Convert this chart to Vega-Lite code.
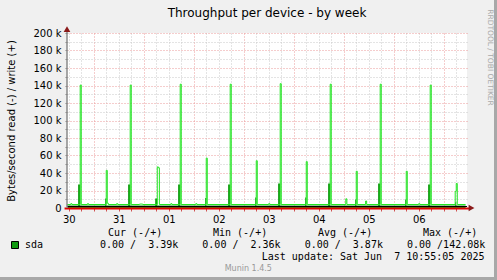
{
  "$schema": "https://vega.github.io/schema/vega-lite/v6.json",
  "width": 400,
  "height": 175,
  "autosize": {"type": "none"},
  "padding": {"left": 67, "top": 33, "right": 30, "bottom": 72},
  "background": "#f0f0f0",
  "config": {
    "view": {"fill": "#ffffff", "stroke": null},
    "font": "DejaVu Sans"
  },
  "title": {"text": "Throughput per device - by week", "fontSize": 12, "fontWeight": "normal", "color": "#000000", "font": "DejaVu Sans", "anchor": "middle", "frame": "group", "offset": -21},
  "datasets": {
    "io": [
      {"device": "sda", "part": "line", "t": "2025-05-30T11:10:00Z", "v": 4000},
      {"device": "sda", "part": "line", "t": "2025-05-30T13:00:00Z", "v": 5000},
      {"device": "sda", "part": "line", "t": "2025-05-30T13:30:00Z", "v": 4000},
      {"device": "sda", "part": "line", "t": "2025-05-30T17:30:00Z", "v": 140500},
      {"device": "sda", "part": "line", "t": "2025-05-30T18:00:00Z", "v": 4000},
      {"device": "sda", "part": "line", "t": "2025-05-30T21:00:00Z", "v": 5000},
      {"device": "sda", "part": "line", "t": "2025-05-30T21:30:00Z", "v": 4000},
      {"device": "sda", "part": "line", "t": "2025-05-31T06:00:00Z", "v": 43000},
      {"device": "sda", "part": "line", "t": "2025-05-31T06:30:00Z", "v": 5500},
      {"device": "sda", "part": "line", "t": "2025-05-31T07:00:00Z", "v": 4000},
      {"device": "sda", "part": "line", "t": "2025-05-31T11:00:00Z", "v": 5000},
      {"device": "sda", "part": "line", "t": "2025-05-31T11:30:00Z", "v": 4000},
      {"device": "sda", "part": "line", "t": "2025-05-31T17:30:00Z", "v": 140500},
      {"device": "sda", "part": "line", "t": "2025-05-31T18:00:00Z", "v": 4000},
      {"device": "sda", "part": "line", "t": "2025-05-31T22:00:00Z", "v": 4500},
      {"device": "sda", "part": "line", "t": "2025-05-31T23:30:00Z", "v": 4000},
      {"device": "sda", "part": "line", "t": "2025-06-01T06:30:00Z", "v": 47000},
      {"device": "sda", "part": "line", "t": "2025-06-01T07:00:00Z", "v": 46000},
      {"device": "sda", "part": "line", "t": "2025-06-01T07:30:00Z", "v": 4000},
      {"device": "sda", "part": "line", "t": "2025-06-01T13:00:00Z", "v": 5000},
      {"device": "sda", "part": "line", "t": "2025-06-01T13:30:00Z", "v": 4000},
      {"device": "sda", "part": "line", "t": "2025-06-01T17:30:00Z", "v": 141500},
      {"device": "sda", "part": "line", "t": "2025-06-01T18:00:00Z", "v": 4000},
      {"device": "sda", "part": "line", "t": "2025-06-02T01:00:00Z", "v": 5000},
      {"device": "sda", "part": "line", "t": "2025-06-02T01:30:00Z", "v": 4000},
      {"device": "sda", "part": "line", "t": "2025-06-02T06:00:00Z", "v": 57000},
      {"device": "sda", "part": "line", "t": "2025-06-02T06:30:00Z", "v": 4000},
      {"device": "sda", "part": "line", "t": "2025-06-02T17:30:00Z", "v": 141500},
      {"device": "sda", "part": "line", "t": "2025-06-02T18:00:00Z", "v": 4000},
      {"device": "sda", "part": "line", "t": "2025-06-03T06:00:00Z", "v": 54000},
      {"device": "sda", "part": "line", "t": "2025-06-03T06:30:00Z", "v": 4000},
      {"device": "sda", "part": "line", "t": "2025-06-03T12:00:00Z", "v": 5000},
      {"device": "sda", "part": "line", "t": "2025-06-03T12:30:00Z", "v": 4000},
      {"device": "sda", "part": "line", "t": "2025-06-03T17:30:00Z", "v": 142080},
      {"device": "sda", "part": "line", "t": "2025-06-03T18:00:00Z", "v": 4000},
      {"device": "sda", "part": "line", "t": "2025-06-04T06:00:00Z", "v": 53000},
      {"device": "sda", "part": "line", "t": "2025-06-04T06:30:00Z", "v": 4000},
      {"device": "sda", "part": "line", "t": "2025-06-04T17:30:00Z", "v": 141500},
      {"device": "sda", "part": "line", "t": "2025-06-04T18:00:00Z", "v": 4000},
      {"device": "sda", "part": "line", "t": "2025-06-05T01:00:00Z", "v": 10500},
      {"device": "sda", "part": "line", "t": "2025-06-05T01:30:00Z", "v": 4000},
      {"device": "sda", "part": "line", "t": "2025-06-05T06:00:00Z", "v": 42000},
      {"device": "sda", "part": "line", "t": "2025-06-05T06:30:00Z", "v": 4000},
      {"device": "sda", "part": "line", "t": "2025-06-05T10:30:00Z", "v": 8000},
      {"device": "sda", "part": "line", "t": "2025-06-05T11:00:00Z", "v": 4000},
      {"device": "sda", "part": "line", "t": "2025-06-05T17:30:00Z", "v": 141500},
      {"device": "sda", "part": "line", "t": "2025-06-05T18:00:00Z", "v": 4000},
      {"device": "sda", "part": "line", "t": "2025-06-06T06:00:00Z", "v": 42000},
      {"device": "sda", "part": "line", "t": "2025-06-06T06:30:00Z", "v": 4000},
      {"device": "sda", "part": "line", "t": "2025-06-06T12:00:00Z", "v": 5000},
      {"device": "sda", "part": "line", "t": "2025-06-06T12:30:00Z", "v": 4000},
      {"device": "sda", "part": "line", "t": "2025-06-06T17:30:00Z", "v": 140500},
      {"device": "sda", "part": "line", "t": "2025-06-06T18:00:00Z", "v": 4000},
      {"device": "sda", "part": "line", "t": "2025-06-07T05:30:00Z", "v": 19000},
      {"device": "sda", "part": "line", "t": "2025-06-07T06:00:00Z", "v": 28000},
      {"device": "sda", "part": "line", "t": "2025-06-07T06:30:00Z", "v": 4000},
      {"device": "sda", "part": "line", "t": "2025-06-07T10:30:00Z", "v": 4000},
      {"device": "sda", "part": "area", "t": "2025-05-30T11:10:00Z", "v": 3000},
      {"device": "sda", "part": "area", "t": "2025-05-30T16:30:00Z", "v": 27000},
      {"device": "sda", "part": "area", "t": "2025-05-30T17:30:00Z", "v": 3000},
      {"device": "sda", "part": "area", "t": "2025-05-31T05:30:00Z", "v": 10900},
      {"device": "sda", "part": "area", "t": "2025-05-31T06:00:00Z", "v": 3000},
      {"device": "sda", "part": "area", "t": "2025-05-31T16:30:00Z", "v": 27000},
      {"device": "sda", "part": "area", "t": "2025-05-31T17:30:00Z", "v": 3000},
      {"device": "sda", "part": "area", "t": "2025-06-01T05:30:00Z", "v": 11000},
      {"device": "sda", "part": "area", "t": "2025-06-01T06:30:00Z", "v": 3000},
      {"device": "sda", "part": "area", "t": "2025-06-01T16:30:00Z", "v": 27000},
      {"device": "sda", "part": "area", "t": "2025-06-01T17:30:00Z", "v": 3000},
      {"device": "sda", "part": "area", "t": "2025-06-02T05:30:00Z", "v": 11500},
      {"device": "sda", "part": "area", "t": "2025-06-02T06:00:00Z", "v": 3000},
      {"device": "sda", "part": "area", "t": "2025-06-02T16:30:00Z", "v": 27000},
      {"device": "sda", "part": "area", "t": "2025-06-02T17:30:00Z", "v": 3000},
      {"device": "sda", "part": "area", "t": "2025-06-03T05:30:00Z", "v": 12000},
      {"device": "sda", "part": "area", "t": "2025-06-03T06:00:00Z", "v": 3000},
      {"device": "sda", "part": "area", "t": "2025-06-03T16:30:00Z", "v": 28000},
      {"device": "sda", "part": "area", "t": "2025-06-03T17:30:00Z", "v": 3000},
      {"device": "sda", "part": "area", "t": "2025-06-04T05:30:00Z", "v": 12000},
      {"device": "sda", "part": "area", "t": "2025-06-04T06:00:00Z", "v": 3000},
      {"device": "sda", "part": "area", "t": "2025-06-04T16:30:00Z", "v": 28000},
      {"device": "sda", "part": "area", "t": "2025-06-04T17:30:00Z", "v": 3000},
      {"device": "sda", "part": "area", "t": "2025-06-05T05:30:00Z", "v": 9700},
      {"device": "sda", "part": "area", "t": "2025-06-05T06:00:00Z", "v": 3000},
      {"device": "sda", "part": "area", "t": "2025-06-05T16:30:00Z", "v": 28000},
      {"device": "sda", "part": "area", "t": "2025-06-05T17:30:00Z", "v": 3000},
      {"device": "sda", "part": "area", "t": "2025-06-06T05:30:00Z", "v": 9700},
      {"device": "sda", "part": "area", "t": "2025-06-06T06:00:00Z", "v": 3000},
      {"device": "sda", "part": "area", "t": "2025-06-06T16:30:00Z", "v": 27000},
      {"device": "sda", "part": "area", "t": "2025-06-06T17:30:00Z", "v": 3000},
      {"device": "sda", "part": "area", "t": "2025-06-07T05:30:00Z", "v": 6600},
      {"device": "sda", "part": "area", "t": "2025-06-07T06:00:00Z", "v": 3000},
      {"device": "sda", "part": "area", "t": "2025-06-07T10:30:00Z", "v": 3000}
    ],
    "stats": [
      {"stat": "Cur", "header": "Cur (-/+)", "value": "0.00 /\u00a0\u00a03.39k"},
      {"stat": "Min", "header": "Min (-/+)", "value": "0.00 /\u00a0\u00a02.36k"},
      {"stat": "Avg", "header": "Avg (-/+)", "value": "0.00 /\u00a0\u00a03.87k"},
      {"stat": "Max", "header": "Max (-/+)", "value": "0.00 /142.08k"}
    ],
    "one": [{}]
  },
  "layer": [
    {
      "data": {"name": "io"},
      "transform": [{"filter": "datum.part == 'area'"}],
      "mark": {"type": "area", "interpolate": "step-after", "opacity": 1},
      "encoding": {
        "x": {"field": "t", "type": "temporal",
          "scale": {"type": "utc", "domain": [{"year": 2025, "month": 5, "date": 30, "hours": 11, "minutes": 10, "utc": true}, {"year": 2025, "month": 6, "date": 7, "hours": 11, "minutes": 10, "utc": true}]},
          "axis": {"orient": "bottom", "title": null, "grid": true, "gridColor": "#c8c8c8", "gridDash": [1, 2], "domain": false,
            "ticks": true, "tickColor": "#d05050", "tickSize": 3,
            "labelExpr": "utchours(datum.value) == 12 ? utcFormat(datum.value, '%d') : ''",
            "labelFont": "DejaVu Sans", "labelFontSize": 10, "labelColor": "#000000", "labelPadding": 3, "labelOverlap": false, "labelFlush": false, "labelBound": false,
            "values": [
              {"year": 2025, "month": 5, "date": 30, "hours": 12, "utc": true},
              {"year": 2025, "month": 5, "date": 30, "hours": 18, "utc": true},
              {"year": 2025, "month": 5, "date": 31, "hours": 6, "utc": true},
              {"year": 2025, "month": 5, "date": 31, "hours": 12, "utc": true},
              {"year": 2025, "month": 5, "date": 31, "hours": 18, "utc": true},
              {"year": 2025, "month": 6, "date": 1, "hours": 6, "utc": true},
              {"year": 2025, "month": 6, "date": 1, "hours": 12, "utc": true},
              {"year": 2025, "month": 6, "date": 1, "hours": 18, "utc": true},
              {"year": 2025, "month": 6, "date": 2, "hours": 6, "utc": true},
              {"year": 2025, "month": 6, "date": 2, "hours": 12, "utc": true},
              {"year": 2025, "month": 6, "date": 2, "hours": 18, "utc": true},
              {"year": 2025, "month": 6, "date": 3, "hours": 6, "utc": true},
              {"year": 2025, "month": 6, "date": 3, "hours": 12, "utc": true},
              {"year": 2025, "month": 6, "date": 3, "hours": 18, "utc": true},
              {"year": 2025, "month": 6, "date": 4, "hours": 6, "utc": true},
              {"year": 2025, "month": 6, "date": 4, "hours": 12, "utc": true},
              {"year": 2025, "month": 6, "date": 4, "hours": 18, "utc": true},
              {"year": 2025, "month": 6, "date": 5, "hours": 6, "utc": true},
              {"year": 2025, "month": 6, "date": 5, "hours": 12, "utc": true},
              {"year": 2025, "month": 6, "date": 5, "hours": 18, "utc": true},
              {"year": 2025, "month": 6, "date": 6, "hours": 6, "utc": true},
              {"year": 2025, "month": 6, "date": 6, "hours": 12, "utc": true},
              {"year": 2025, "month": 6, "date": 6, "hours": 18, "utc": true},
              {"year": 2025, "month": 6, "date": 7, "hours": 6, "utc": true}
            ]}},
        "y": {"field": "v", "type": "quantitative", "scale": {"domain": [0, 200000]},
          "axis": {"orient": "left", "title": null, "grid": true, "gridColor": "#c8c8c8", "gridDash": [1, 2], "labels": false, "ticks": true, "tickSize": 2, "tickColor": "#888888", "domain": false,
            "values": [10000, 30000, 50000, 70000, 90000, 110000, 130000, 150000, 170000, 190000]}},
        "color": {"field": "device", "type": "nominal", "scale": {"domain": ["sda"], "range": ["#109a10"]},
          "legend": {"orient": "none", "legendX": -57, "legendY": 207, "title": null, "padding": 0, "symbolType": "square", "symbolSize": 49, "symbolStrokeColor": "#000000", "symbolStrokeWidth": 1, "labelFont": "DejaVu Sans Mono", "labelFontSize": 10, "labelColor": "#000000", "labelOffset": 5}}
      }
    },
    {
      "data": {"name": "io"},
      "transform": [{"filter": "datum.part == 'line'"}],
      "mark": {"type": "line", "interpolate": "step-after", "color": "#22e622", "strokeWidth": 1},
      "encoding": {
        "x": {"field": "t", "type": "temporal",
          "scale": {"type": "utc", "domain": [{"year": 2025, "month": 5, "date": 30, "hours": 11, "minutes": 10, "utc": true}, {"year": 2025, "month": 6, "date": 7, "hours": 11, "minutes": 10, "utc": true}]},
          "axis": {"orient": "bottom", "title": null, "grid": true, "gridColor": "#eb9a9a", "gridDash": [1, 2], "domain": false, "labels": false,
            "ticks": true, "tickColor": "#d05050", "tickSize": 3,
            "values": [
              {"year": 2025, "month": 5, "date": 31, "hours": 0, "utc": true},
              {"year": 2025, "month": 6, "date": 1, "hours": 0, "utc": true},
              {"year": 2025, "month": 6, "date": 2, "hours": 0, "utc": true},
              {"year": 2025, "month": 6, "date": 3, "hours": 0, "utc": true},
              {"year": 2025, "month": 6, "date": 4, "hours": 0, "utc": true},
              {"year": 2025, "month": 6, "date": 5, "hours": 0, "utc": true},
              {"year": 2025, "month": 6, "date": 6, "hours": 0, "utc": true},
              {"year": 2025, "month": 6, "date": 7, "hours": 0, "utc": true}
            ]}},
        "y": {"field": "v", "type": "quantitative", "scale": {"domain": [0, 200000]},
          "axis": {"orient": "left", "grid": true, "gridColor": "#eb9a9a", "gridDash": [1, 2], "domain": false,
            "ticks": true, "tickSize": 2, "tickColor": "#888888",
            "values": [0, 20000, 40000, 60000, 80000, 100000, 120000, 140000, 160000, 180000, 200000],
            "labelExpr": "datum.value == 0 ? '0' : format(datum.value / 1000, 'd') + ' k'",
            "labelFont": "DejaVu Sans", "labelFontSize": 10, "labelColor": "#000000", "labelPadding": 4,
            "title": "Bytes/second read (-) / write (+)", "titleFont": "DejaVu Sans", "titleFontSize": 10, "titleFontWeight": "normal", "titleColor": "#000000", "titlePadding": 16}}
      }
    },
    {
      "data": {"name": "one"},
      "mark": {"type": "rule", "color": "#000000", "strokeWidth": 1, "yOffset": -1.5},
      "encoding": {
        "x": {"datum": {"year": 2025, "month": 5, "date": 30, "hours": 11, "minutes": 10, "utc": true}, "type": "temporal", "scale": {"type": "utc", "domain": [{"year": 2025, "month": 5, "date": 30, "hours": 11, "minutes": 10, "utc": true}, {"year": 2025, "month": 6, "date": 7, "hours": 11, "minutes": 10, "utc": true}]}, "axis": null},
        "x2": {"datum": {"year": 2025, "month": 6, "date": 7, "hours": 11, "minutes": 10, "utc": true}},
        "y": {"datum": 0, "type": "quantitative", "scale": {"domain": [0, 200000]}, "axis": null}
      }
    },
    {
      "data": {"name": "one"},
      "mark": {"type": "rule", "color": "#e00000", "strokeWidth": 2, "yOffset": 0.5},
      "encoding": {
        "x": {"datum": {"year": 2025, "month": 5, "date": 30, "hours": 10, "minutes": 0, "utc": true}, "type": "temporal", "scale": {"type": "utc", "domain": [{"year": 2025, "month": 5, "date": 30, "hours": 11, "minutes": 10, "utc": true}, {"year": 2025, "month": 6, "date": 7, "hours": 11, "minutes": 10, "utc": true}]}, "axis": null},
        "x2": {"datum": {"year": 2025, "month": 6, "date": 7, "hours": 13, "minutes": 0, "utc": true}},
        "y": {"datum": 0, "type": "quantitative", "scale": {"domain": [0, 200000]}, "axis": null}
      }
    },
    {
      "data": {"name": "one"},
      "mark": {"type": "rule", "color": "#8a8a8a", "strokeWidth": 1.5},
      "encoding": {
        "x": {"datum": {"year": 2025, "month": 5, "date": 30, "hours": 11, "minutes": 10, "utc": true}, "type": "temporal", "scale": {"type": "utc", "domain": [{"year": 2025, "month": 5, "date": 30, "hours": 11, "minutes": 10, "utc": true}, {"year": 2025, "month": 6, "date": 7, "hours": 11, "minutes": 10, "utc": true}]}, "axis": null},
        "y": {"datum": 0, "type": "quantitative", "scale": {"domain": [0, 200000]}, "axis": null},
        "y2": {"datum": 204000}
      }
    },
    {
      "data": {"name": "one"},
      "mark": {"type": "point", "shape": "triangle-right", "size": 45, "filled": true, "color": "#8b1a1a", "opacity": 1},
      "encoding": {
        "x": {"datum": {"year": 2025, "month": 6, "date": 7, "hours": 13, "minutes": 20, "utc": true}, "type": "temporal", "scale": {"type": "utc", "domain": [{"year": 2025, "month": 5, "date": 30, "hours": 11, "minutes": 10, "utc": true}, {"year": 2025, "month": 6, "date": 7, "hours": 11, "minutes": 10, "utc": true}]}, "axis": null},
        "y": {"datum": 0, "type": "quantitative", "scale": {"domain": [0, 200000]}, "axis": null}
      }
    },
    {
      "data": {"name": "one"},
      "mark": {"type": "point", "shape": "triangle-up", "size": 45, "filled": true, "color": "#8b1a1a", "opacity": 1},
      "encoding": {
        "x": {"datum": {"year": 2025, "month": 5, "date": 30, "hours": 11, "minutes": 10, "utc": true}, "type": "temporal", "scale": {"type": "utc", "domain": [{"year": 2025, "month": 5, "date": 30, "hours": 11, "minutes": 10, "utc": true}, {"year": 2025, "month": 6, "date": 7, "hours": 11, "minutes": 10, "utc": true}]}, "axis": null},
        "y": {"datum": 204500, "type": "quantitative", "scale": {"domain": [0, 200000]}, "axis": null}
      }
    },
    {
      "data": {"name": "one"},
      "mark": {"type": "text", "text": "RRDTOOL / TOBI OETIKER", "angle": 90, "align": "center", "baseline": "middle", "font": "DejaVu Sans", "fontSize": 7.5, "color": "#aaaaaa"},
      "encoding": {
        "x": {"datum": {"year": 2025, "month": 6, "date": 7, "hours": 21, "minutes": 58, "utc": true}, "type": "temporal", "scale": {"type": "utc", "domain": [{"year": 2025, "month": 5, "date": 30, "hours": 11, "minutes": 10, "utc": true}, {"year": 2025, "month": 6, "date": 7, "hours": 11, "minutes": 10, "utc": true}]}, "axis": null},
        "y": {"datum": 172000, "type": "quantitative", "scale": {"domain": [0, 200000]}, "axis": null}
      }
    },
    {
      "data": {"name": "one"},
      "mark": {"type": "rule", "color": "#a8a8a8", "strokeWidth": 3},
      "encoding": {
        "x": {"datum": {"year": 2025, "month": 6, "date": 8, "hours": 0, "minutes": 51, "utc": true}, "type": "temporal", "scale": {"type": "utc", "domain": [{"year": 2025, "month": 5, "date": 30, "hours": 11, "minutes": 10, "utc": true}, {"year": 2025, "month": 6, "date": 7, "hours": 11, "minutes": 10, "utc": true}]}, "axis": null},
        "y": {"datum": 237700, "type": "quantitative", "scale": {"domain": [0, 200000]}, "axis": null},
        "y2": {"datum": -82300}
      }
    },
    {
      "data": {"name": "one"},
      "mark": {"type": "rule", "color": "#a8a8a8", "strokeWidth": 3},
      "encoding": {
        "x": {"datum": {"year": 2025, "month": 5, "date": 29, "hours": 3, "minutes": 0, "utc": true}, "type": "temporal", "scale": {"type": "utc", "domain": [{"year": 2025, "month": 5, "date": 30, "hours": 11, "minutes": 10, "utc": true}, {"year": 2025, "month": 6, "date": 7, "hours": 11, "minutes": 10, "utc": true}]}, "axis": null},
        "x2": {"datum": {"year": 2025, "month": 6, "date": 8, "hours": 2, "minutes": 0, "utc": true}},
        "y": {"datum": -80600, "type": "quantitative", "scale": {"domain": [0, 200000]}, "axis": null}
      }
    },
    {
      "data": {"name": "stats"},
      "mark": {"type": "text", "align": "left", "baseline": "middle", "font": "DejaVu Sans Mono", "fontSize": 10, "color": "#000000", "dx": -1.5},
      "encoding": {
        "x": {"field": "stat", "type": "nominal", "sort": null, "scale": {"type": "point", "domain": ["Cur", "Min", "Avg", "Max"], "padding": 0.4048}, "axis": null},
        "y": {"datum": 1, "type": "quantitative", "scale": {"domain": [-15.496, -1.033], "reverse": true}, "axis": null},
        "text": {"field": "header"}
      }
    },
    {
      "data": {"name": "stats"},
      "mark": {"type": "text", "align": "left", "baseline": "middle", "font": "DejaVu Sans Mono", "fontSize": 10, "color": "#000000", "dx": -13.5},
      "encoding": {
        "x": {"field": "stat", "type": "nominal", "sort": null, "scale": {"type": "point", "domain": ["Cur", "Min", "Avg", "Max"], "padding": 0.4544}, "axis": null},
        "y": {"datum": 2, "type": "quantitative", "scale": {"domain": [-15.496, -1.033], "reverse": true}, "axis": null},
        "text": {"field": "value"}
      }
    },
    {
      "data": {"name": "one"},
      "mark": {"type": "text", "text": "Last update: Sat Jun\u00a0\u00a07 10:55:05 2025", "align": "right", "baseline": "middle", "font": "DejaVu Sans Mono", "fontSize": 10, "color": "#000000", "dx": 217.5},
      "encoding": {
        "y": {"datum": 3, "type": "quantitative", "scale": {"domain": [-15.496, -1.033], "reverse": true}, "axis": null}
      }
    },
    {
      "data": {"name": "one"},
      "mark": {"type": "text", "text": "Munin 1.4.5", "align": "center", "baseline": "middle", "font": "DejaVu Sans", "fontSize": 8, "color": "#999999", "dx": -18.7},
      "encoding": {
        "y": {"datum": 4, "type": "quantitative", "scale": {"domain": [-15.496, -1.033], "reverse": true}, "axis": null}
      }
    }
  ],
  "resolve": {
    "scale": {"x": "independent", "y": "independent", "color": "independent"},
    "axis": {"x": "independent", "y": "independent"}
  }
}
